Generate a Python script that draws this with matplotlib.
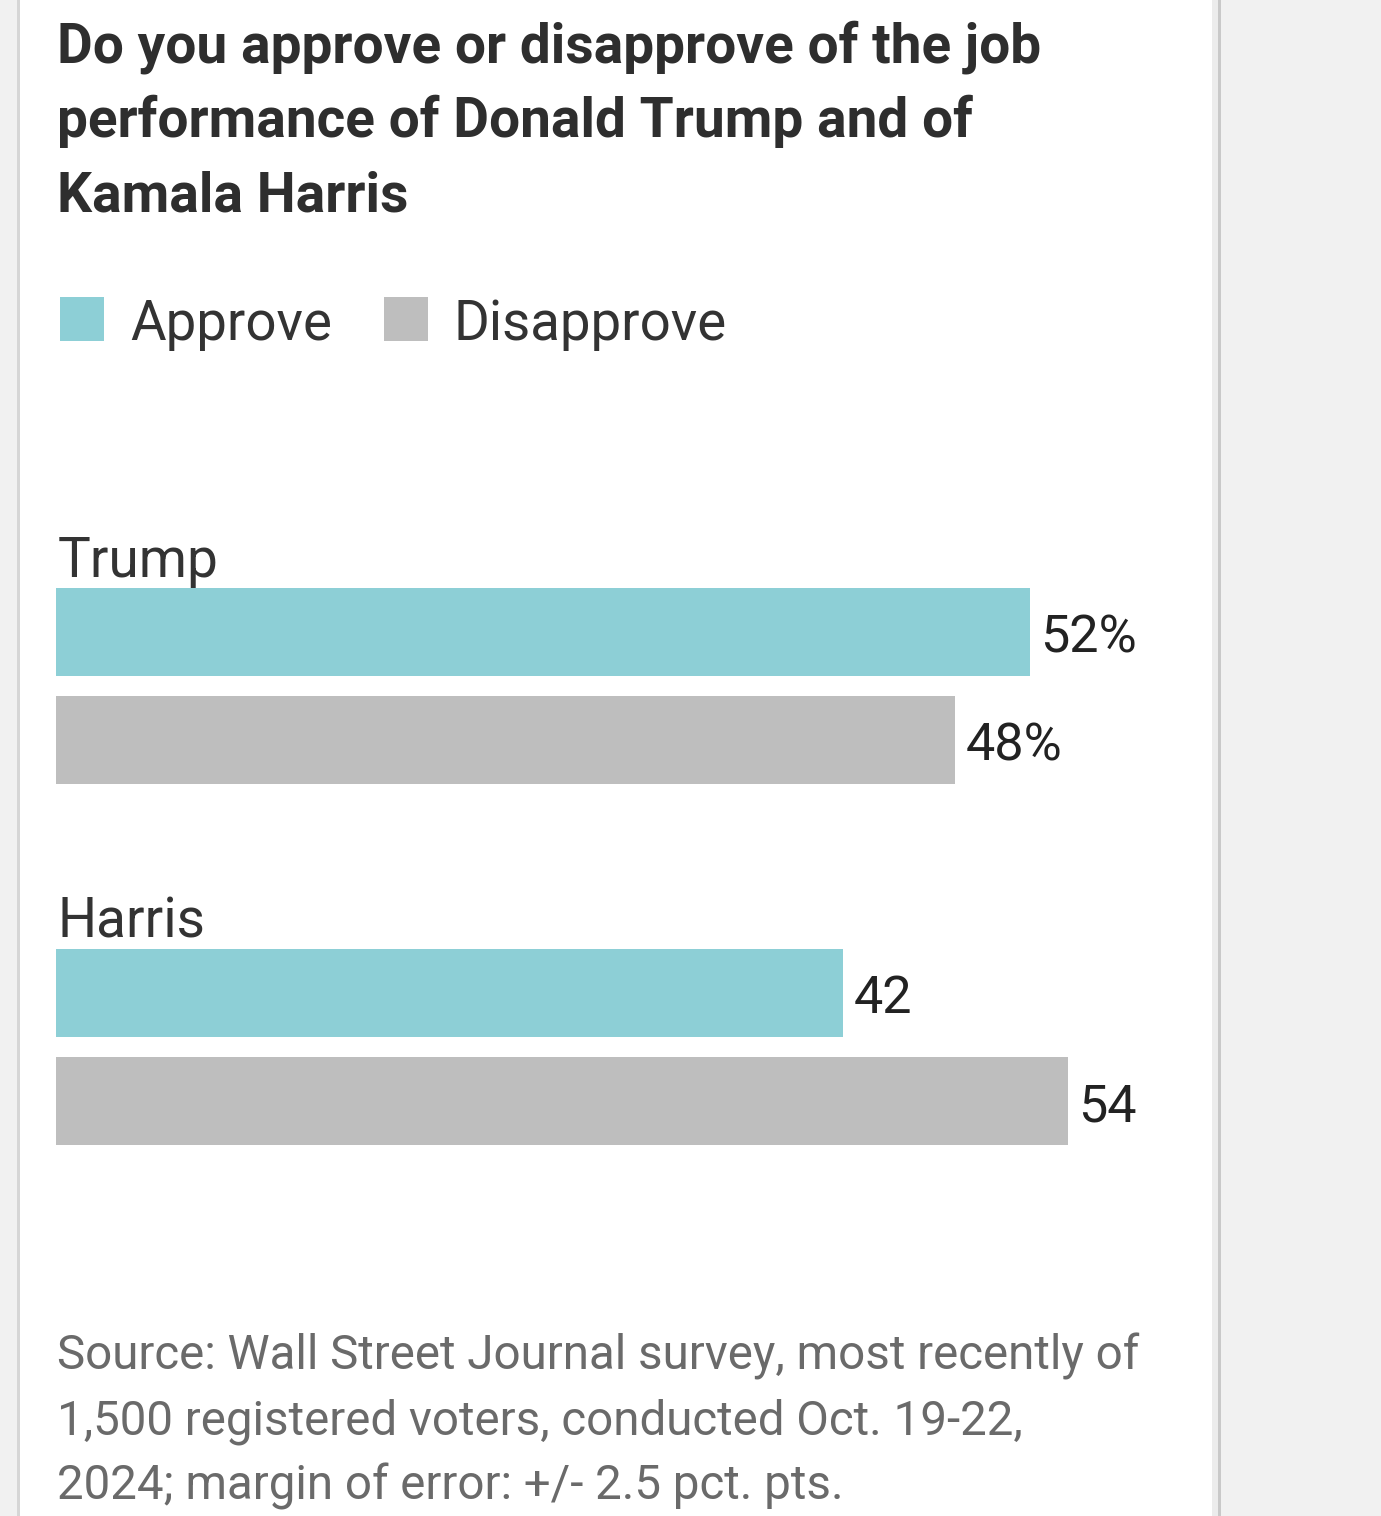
"""
plot.py - WSJ approval bars for Trump and Harris.
"""
import matplotlib.pyplot as plt
from matplotlib.patches import Rectangle

candidates = ["Trump", "Harris"]
approve = [52, 42]
disapprove = [48, 54]
approve_labels = ["52%", "42"]
disapprove_labels = ["48%", "54"]
legend_labels = ["Approve", "Disapprove"]

title_lines = ["Do you approve or disapprove of the job",
               "performance of Donald Trump and of",
               "Kamala Harris"]
source_lines = ["Source: Wall Street Journal survey, most recently of",
                "1,500 registered voters, conducted Oct. 19-22,",
                "2024; margin of error: +/- 2.5 pct. pts."]

TEAL = "#8dcfd6"
GRAY = "#bebebe"
FONT = "Roboto"

W, H = 1381, 1516
fig = plt.figure(figsize=(W / 100, H / 100), dpi=100)
fig.patch.set_facecolor("#f1f1f1")
renderer = fig.canvas.get_renderer()


def px(x, y):
    # pixel position (from top-left) -> figure fraction
    return x / W, 1 - y / H


def fit(t, target):
    # scale a text so its drawn width matches the reference width (px)
    w = t.get_window_extent(renderer).width
    t.set_fontsize(t.get_fontsize() * target / w)
    return t.get_fontsize()


# page panel with its edges
fig.add_artist(Rectangle((19 / W, 0), (1218 - 19) / W, 1, transform=fig.transFigure,
                         facecolor="white", edgecolor="none", zorder=0))
fig.add_artist(Rectangle((17 / W, 0), 3 / W, 1, transform=fig.transFigure,
                         facecolor="#d6d6d6", edgecolor="none", zorder=0))
fig.add_artist(Rectangle((1212 / W, 0), 6 / W, 1, transform=fig.transFigure,
                         facecolor="#ececec", edgecolor="none", zorder=0))
fig.add_artist(Rectangle((1218 / W, 0), 3 / W, 1, transform=fig.transFigure,
                         facecolor="#c9c9c9", edgecolor="none", zorder=0))

# title
title_texts = [fig.text(*px(57, 62 + 75 * i), line, family=FONT, weight="bold",
                        fontsize=36, color="#2e2e2e", va="baseline", ha="left")
               for i, line in enumerate(title_lines)]
fs = fit(title_texts[0], 983)
for t in title_texts[1:]:
    t.set_fontsize(fs)

# legend
leg_texts = []
for i, (lab, col) in enumerate(zip(legend_labels, [TEAL, GRAY])):
    x0 = [60, 384][i]
    fig.add_artist(Rectangle(px(x0, 341), 44 / W, 44 / H, transform=fig.transFigure,
                             facecolor=col, edgecolor="none"))
    leg_texts.append(fig.text(*px(x0 + 70, 340), lab, family=FONT, fontsize=36,
                              color="#333333", va="baseline", ha="left"))
fs = fit(leg_texts[1], 274)
leg_texts[0].set_fontsize(fs)

# bars
step = 1.0
group_gap = 3.343
bar_h = 0.815
ax = fig.add_axes([56 / W, 1 - 1155 / H, 1124 / W, 577 / H])
ax.set_xlim(0, 60)
ax.set_ylim(group_gap + step + 0.5, -0.5)
ax.axis("off")
value_texts, name_texts = [], []
for g, name in enumerate(candidates):
    y_a = g * group_gap
    y_d = y_a + step
    ax.barh(y_a, approve[g], height=bar_h, color=TEAL, left=0)
    ax.barh(y_d, disapprove[g], height=bar_h, color=GRAY, left=0)
    for val, lab, y in [(approve[g], approve_labels[g], y_a),
                        (disapprove[g], disapprove_labels[g], y_d)]:
        value_texts.append(ax.annotate(lab, (val, y), xytext=(7.5, -4.5),
                                       textcoords="offset points", va="center",
                                       ha="left", family=FONT, fontsize=36,
                                       color="#222222"))
    name_texts.append(ax.annotate(name, (0, y_a - bar_h / 2), xytext=(1, 8),
                                  textcoords="offset points", va="baseline",
                                  ha="left", family=FONT, fontsize=36,
                                  color="#333333"))
fs = fit(value_texts[0], 97)
for t in value_texts[1:]:
    t.set_fontsize(fs)
fs = fit(name_texts[0], 161)
name_texts[1].set_fontsize(fs)

# source
src_texts = [fig.text(*px(57, 1370 + 64.5 * i), line, family=FONT, fontsize=32,
                      color="#6a6a6a", va="baseline", ha="left")
             for i, line in enumerate(source_lines)]
fs = fit(src_texts[0], 1086)
for t in src_texts[1:]:
    t.set_fontsize(fs)

fig.savefig("out.png", dpi=100, facecolor=fig.get_facecolor())
